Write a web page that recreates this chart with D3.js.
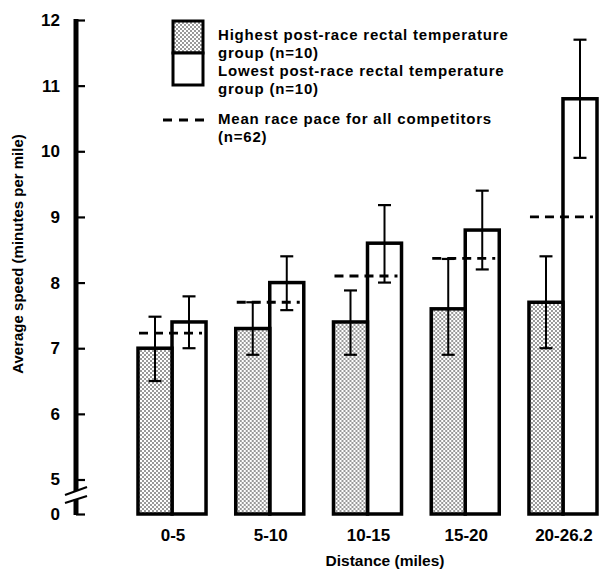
<!DOCTYPE html>
<html>
<head>
<meta charset="utf-8">
<script src="https://cdn.jsdelivr.net/npm/d3@7"></script>
<style>
  body { margin: 0; background: #fff; }
  svg { display: block; }
  text { font-family: "Liberation Sans", Arial, sans-serif; font-weight: bold; fill: #000; }
</style>
</head>
<body>
<div id="chart"></div>
<script>
// Pace by distance split, hottest vs coolest finishers
const categories = ['0-5', '5-10', '10-15', '15-20', '20-26.2'];
const highMean = [7.0, 7.3, 7.4, 7.6, 7.7];
const highErrLow = [6.5, 6.9, 6.9, 6.9, 7.0];
const highErrHigh = [7.48, 7.7, 7.88, 8.36, 8.4];
const lowMean = [7.4, 8.0, 8.6, 8.8, 10.8];
const lowErrLow = [7.0, 7.58, 8.0, 8.2, 9.9];
const lowErrHigh = [7.79, 8.4, 9.18, 9.4, 11.7];
const meanPace = [7.23, 7.7, 8.1, 8.37, 9.0];
const yTicks = [0, 5, 6, 7, 8, 9, 10, 11, 12];
const seriesNames = ['high', 'low'];

const width = 601, height = 571;

const svg = d3.select('#chart').append('svg')
    .attr('width', width).attr('height', height);

// stipple for the "highest temperature" group
const defs = svg.append('defs');
const pat = defs.append('pattern')
    .attr('id', 'stipple').attr('patternUnits', 'userSpaceOnUse')
    .attr('width', 4).attr('height', 4);
pat.append('rect').attr('width', 4).attr('height', 4).attr('fill', '#fff');
pat.append('circle').attr('cx', 1).attr('cy', 1).attr('r', 0.75).attr('fill', '#000');
pat.append('circle').attr('cx', 3).attr('cy', 3).attr('r', 0.75).attr('fill', '#000');

// broken axis: 0..5 squeezed, 5..12 linear
const y = d3.scaleLinear().domain([0, 5, 12]).range([514, 479.5, 20]);
const x = d3.scaleBand().domain(categories).range([138, 597])
    .paddingInner(0.304).paddingOuter(0);
const xs = d3.scaleBand().domain(seriesNames).range([0, x.bandwidth()]);

const axisX = 76;

// Y axis ticks + labels
const yAxis = svg.append('g').attr('transform', `translate(${axisX},0)`)
    .call(d3.axisLeft(y).tickValues(yTicks).tickSizeInner(-9).tickSizeOuter(0).tickPadding(16))
    .call(g => g.select('.domain').remove());
yAxis.selectAll('.tick line').attr('stroke', '#000').attr('stroke-width', 2.2);
yAxis.selectAll('.tick text')
    .attr('font-size', '17px')
    .attr('font-family', '"Liberation Sans", Arial, sans-serif')
    .attr('font-weight', 'bold')
    .attr('fill', '#000');

// axis line with break
const breakY = y(0) - 19;
svg.append('line').attr('x1', axisX).attr('x2', axisX)
    .attr('y1', y(12) - 1).attr('y2', breakY - 4)
    .attr('stroke', '#000').attr('stroke-width', 5);
svg.append('line').attr('x1', axisX).attr('x2', axisX)
    .attr('y1', breakY + 4.5).attr('y2', y(0) + 1)
    .attr('stroke', '#000').attr('stroke-width', 5);
[[0, -8], [8, 1]].forEach(([a, b]) => {
    svg.append('line')
        .attr('x1', axisX - 11).attr('y1', breakY + a)
        .attr('x2', axisX + 11).attr('y2', breakY + b)
        .attr('stroke', '#000').attr('stroke-width', 2.2);
});

// bars
const groups = svg.append('g').selectAll('g').data(categories).enter().append('g')
    .attr('transform', d => `translate(${x(d)},0)`);

groups.append('rect')
    .attr('x', xs('low')).attr('width', xs.bandwidth())
    .attr('y', (d, i) => y(lowMean[i]))
    .attr('height', (d, i) => y(0) - y(lowMean[i]))
    .attr('fill', '#fff').attr('stroke', '#000').attr('stroke-width', 3.5);

groups.append('rect')
    .attr('x', xs('high')).attr('width', xs.bandwidth())
    .attr('y', (d, i) => y(highMean[i]))
    .attr('height', (d, i) => y(0) - y(highMean[i]))
    .attr('fill', 'url(#stipple)').attr('stroke', '#000').attr('stroke-width', 3.5);

// error bars
function errBar(series, lo, hi) {
    const cx = xs(series) + xs.bandwidth() / 2;
    groups.append('line')
        .attr('x1', cx).attr('x2', cx)
        .attr('y1', (d, i) => y(lo[i])).attr('y2', (d, i) => y(hi[i]))
        .attr('stroke', '#000').attr('stroke-width', 2);
    [lo, hi].forEach(arr => {
        groups.append('line')
            .attr('x1', cx - 6.5).attr('x2', cx + 6.5)
            .attr('y1', (d, i) => y(arr[i])).attr('y2', (d, i) => y(arr[i]))
            .attr('stroke', '#000').attr('stroke-width', 2.2);
    });
}
errBar('high', highErrLow, highErrHigh);
errBar('low', lowErrLow, lowErrHigh);

// mean race pace, dashed
groups.append('line')
    .attr('x1', 1).attr('x2', 64)
    .attr('y1', (d, i) => y(meanPace[i])).attr('y2', (d, i) => y(meanPace[i]))
    .attr('stroke', '#000').attr('stroke-width', 2.8)
    .attr('stroke-dasharray', '9,6');

// x labels
svg.append('g').selectAll('text').data(categories).enter().append('text')
    .attr('x', d => x(d) + x.bandwidth() / 2 + 1)
    .attr('y', 541)
    .attr('text-anchor', 'middle')
    .attr('font-size', '17px')
    .text(d => d);

svg.append('text')
    .attr('x', 385).attr('y', 566)
    .attr('text-anchor', 'middle')
    .attr('font-size', '15.5px')
    .text('Distance (miles)');

svg.append('text')
    .attr('transform', 'translate(23,254) rotate(-90)')
    .attr('text-anchor', 'middle')
    .attr('font-size', '15px')
    .text('Average speed (minutes per mile)');

// legend
const lg = svg.append('g');
lg.append('rect').attr('x', 173).attr('y', 21).attr('width', 30).attr('height', 32)
    .attr('fill', 'url(#stipple)').attr('stroke', '#000').attr('stroke-width', 3);
lg.append('rect').attr('x', 173).attr('y', 53).attr('width', 30).attr('height', 32)
    .attr('fill', '#fff').attr('stroke', '#000').attr('stroke-width', 3);
lg.append('line').attr('x1', 163).attr('x2', 204).attr('y1', 120).attr('y2', 120)
    .attr('stroke', '#000').attr('stroke-width', 2.8).attr('stroke-dasharray', '9,7');

const legendLines = [
    ['Highest post-race rectal temperature', 40],
    ['group (n=10)', 57.5],
    ['Lowest post-race rectal temperature', 76],
    ['group (n=10)', 93.5],
    ['Mean race pace for all competitors', 124],
    ['(n=62)', 141.5]
];
lg.selectAll('text.leg').data(legendLines).enter().append('text')
    .attr('class', 'leg')
    .attr('x', 218).attr('y', d => d[1])
    .attr('font-size', '15px')
    .attr('letter-spacing', '0.8px')
    .text(d => d[0]);
</script>
</body>
</html>
